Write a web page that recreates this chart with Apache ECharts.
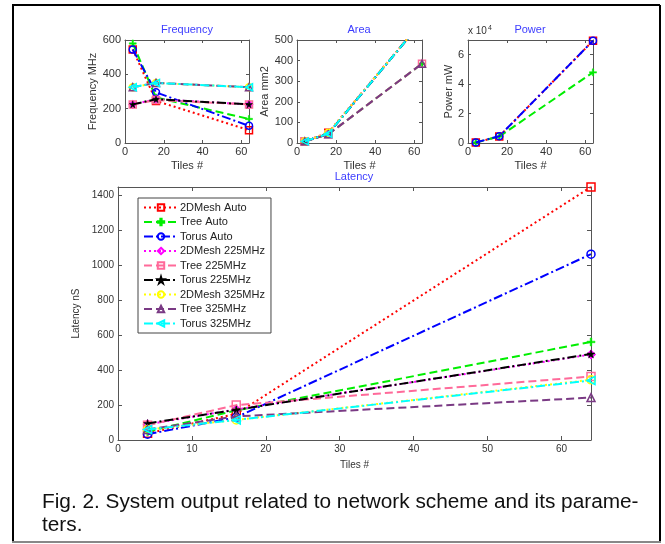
<!DOCTYPE html>
<html><head><meta charset="utf-8">
<script src="https://cdn.jsdelivr.net/npm/echarts@6/dist/echarts.min.js"></script>
<style>html,body{margin:0;padding:0;background:#fff}#c{width:665px;height:544px}</style>
</head><body><div id="c"></div>
<script>
// ---------- data ----------
const tiles = [4, 16, 64];
const seriesNames = ['2DMesh Auto', 'Tree Auto', 'Torus Auto', '2DMesh 225MHz', 'Tree 225MHz', 'Torus 225MHz', '2DMesh 325MHz', 'Tree 325MHz', 'Torus 325MHz'];

// Frequency (MHz)
const freqMeshAuto  = [545, 245, 75];
const freqTreeAuto  = [580, 265, 140];
const freqTorusAuto = [545, 295, 100];
const freqMesh225   = [225, 255, 225];
const freqTree225   = [225, 250, 225];
const freqTorus225  = [225, 255, 225];
const freqMesh325   = [325, 350, 325];
const freqTree325   = [325, 350, 325];
const freqTorus325  = [325, 350, 325];

// Area (mm2)
const areaMesh  = [8, 50, 590];
const areaTree  = [8, 42, 385];
const areaTorus = [8, 45, 590];

// Power (mW)
const powerMeshAuto  = [400, 4500, 69500];
const powerTreeAuto  = [400, 4400, 48000];
const powerTorusAuto = [400, 4600, 69500];

// Latency (nS)
const latMeshAuto  = [38, 150, 1450];
const latTreeAuto  = [48, 170, 562];
const latTorusAuto = [33, 130, 1065];
const latMesh225   = [90, 175, 490];
const latTree225   = [85, 200, 364];
const latTorus225  = [95, 173, 493];
const latMesh325   = [60, 115, 345];
const latTree325   = [60, 135, 243];
const latTorus325  = [60, 115, 341];

const freqData = [freqMeshAuto, freqTreeAuto, freqTorusAuto, freqMesh225, freqTree225, freqTorus225, freqMesh325, freqTree325, freqTorus325];
const areaData = [areaMesh, areaTree, areaTorus, areaMesh, areaTree, areaTorus, areaMesh, areaTree, areaTorus];
const powerData = [powerMeshAuto, powerTreeAuto, powerTorusAuto, null, null, null, null, null, null];
const latData = [latMeshAuto, latTreeAuto, latTorusAuto, latMesh225, latTree225, latTorus225, latMesh325, latTree325, latTorus325];

// ---------- styles ----------
const FONT = '"Liberation Sans", Arial, Helvetica, sans-serif';
const PLUS = 'path://M4,0H6V4H10V6H6V10H4V6H0V4H4Z';
const STAR = 'path://M50,0L61,35L98,35L68,57L79,91L50,70L21,91L32,57L2,35L39,35Z';
const LTRI = 'path://M0,5L10,0L10,10Z';
const DOT = [2, 3], DASH = [8, 4], DASHDOT = [9, 3, 2, 3];
const styles = [
  {c: '#ff0000', t: DOT, s: 'rect', f: false},
  {c: '#00ee00', t: DASH, s: PLUS, f: true},
  {c: '#0000ff', t: DASHDOT, s: 'circle', f: false},
  {c: '#ff00ff', t: DOT, s: 'diamond', f: false},
  {c: '#ff6a9a', t: DASH, s: 'rect', f: false},
  {c: '#000000', t: DASHDOT, s: STAR, f: true},
  {c: '#ffff00', t: DOT, s: 'circle', f: false},
  {c: '#7a3a84', t: DASH, s: 'triangle', f: false},
  {c: '#00ffff', t: DASHDOT, s: LTRI, f: false}
];

const grids = [
  {left: 125, top: 40, width: 124, height: 103},
  {left: 297, top: 40, width: 125, height: 103},
  {left: 468, top: 40, width: 125, height: 103},
  {left: 118, top: 187, width: 473, height: 253}
];

const axisCol = '#555';
const labCol = '#333';
const xAxes = [], yAxes = [];
function addAxes(g, xInt, yMax, yInt, yName, yGap, small, yFmt) {
  const fs = small ? 11 : 10;
  const tickLen = small ? 3 : 4;
  const line = {show: true, onZero: false, lineStyle: {color: axisCol, width: 1}};
  const tick = {show: true, inside: true, length: tickLen, lineStyle: {color: axisCol}};
  xAxes.push({type: 'value', gridIndex: g, position: 'bottom', min: 0, max: 64, interval: xInt,
    name: 'Tiles #', nameLocation: 'middle', nameGap: small ? 17 : 20,
    nameTextStyle: {fontFamily: FONT, fontSize: fs, color: labCol},
    axisLine: line, axisTick: tick,
    axisLabel: {showMaxLabel: false, margin: small ? 3 : 4, fontFamily: FONT, fontSize: fs, color: labCol},
    splitLine: {show: false}});
  xAxes.push({type: 'value', gridIndex: g, position: 'top', min: 0, max: 64, interval: xInt,
    axisLine: line, axisTick: tick,
    axisLabel: {show: false}, splitLine: {show: false}});
  yAxes.push({type: 'value', gridIndex: g, position: 'left', min: 0, max: yMax, interval: yInt,
    name: yName, nameLocation: 'middle', nameGap: yGap, nameRotate: 90,
    nameTextStyle: {fontFamily: FONT, fontSize: fs, color: labCol},
    axisLine: line, axisTick: tick,
    axisLabel: {showMaxLabel: yMax % yInt === 0, margin: 4, fontFamily: FONT, fontSize: fs, color: labCol,
      formatter: yFmt || (v => String(v))},
    splitLine: {show: false}});
  yAxes.push({type: 'value', gridIndex: g, position: 'right', min: 0, max: yMax, interval: yInt,
    axisLine: line, axisTick: tick,
    axisLabel: {show: false}, splitLine: {show: false}});
}
addAxes(0, 20, 600, 200, 'Frequency MHz', 26, true);
addAxes(1, 20, 500, 100, 'Area mm2', 25, true);
addAxes(2, 20, 70000, 20000, 'Power mW', 13, true, v => String(v / 10000));
addAxes(3, 10, 1450, 200, 'Latency nS', 33, false);

const series = [];
function addSeries(g, dataList, symSize) {
  dataList.forEach((arr, i) => {
    if (!arr) return;
    const st = styles[i];
    series.push({
      type: 'line', name: seriesNames[i], xAxisIndex: 2 * g, yAxisIndex: 2 * g,
      data: tiles.map((t, k) => [t, arr[k]]),
      symbol: st.s, symbolSize: symSize, showAllSymbol: true, clip: true,
      lineStyle: {color: st.c, width: 2, type: st.t},
      itemStyle: {color: st.f ? st.c : 'rgba(0,0,0,0)', borderColor: st.c, borderWidth: st.f ? 0.5 : 1.5},
      emphasis: {disabled: true}, z: 2 + i
    });
  });
}
addSeries(3, latData, 8);
addSeries(0, freqData, 7);
addSeries(1, areaData, 7);
addSeries(2, powerData, 7);

const titleStyle = {fontFamily: FONT, fontSize: 11, fill: '#3c3cff', align: 'center', verticalAlign: 'middle'};
const graphic = [
  {type: 'line', shape: {x1: 12, y1: 5, x2: 660, y2: 5}, style: {stroke: '#000', lineWidth: 2}},
  {type: 'line', shape: {x1: 13, y1: 5, x2: 13, y2: 542}, style: {stroke: '#000', lineWidth: 2}},
  {type: 'line', shape: {x1: 660, y1: 5, x2: 660, y2: 542}, style: {stroke: '#000', lineWidth: 2}},
  {type: 'line', shape: {x1: 12, y1: 542, x2: 661, y2: 542}, style: {stroke: '#888', lineWidth: 2}},
  {type: 'text', x: 187, y: 30, style: Object.assign({text: 'Frequency'}, titleStyle)},
  {type: 'text', x: 359, y: 30, style: Object.assign({text: 'Area'}, titleStyle)},
  {type: 'text', x: 530, y: 30, style: Object.assign({text: 'Power'}, titleStyle)},
  {type: 'text', x: 354, y: 177, style: Object.assign({text: 'Latency'}, titleStyle)},
  {type: 'text', x: 468, y: 38, style: {text: '{a|x 10}{b|4}', verticalAlign: 'bottom', fontFamily: FONT,
    rich: {a: {fontFamily: FONT, fontSize: 10, fill: labCol}, b: {fontFamily: FONT, fontSize: 7, fill: labCol, verticalAlign: 'top', padding: [0, 0, 6, 1]}}}},
  {type: 'text', x: 42, y: 502, scaleX: 1.04, style: {text: 'Fig. 2. System output related to network scheme and its parame-', fontFamily: FONT, fontSize: 20, fill: '#111', verticalAlign: 'middle'}},
  {type: 'text', x: 42, y: 525, scaleX: 1.04, style: {text: 'ters.', fontFamily: FONT, fontSize: 20, fill: '#111', verticalAlign: 'middle'}}
];

const option = {
  animation: false,
  backgroundColor: '#fff',
  grid: grids,
  xAxis: xAxes,
  yAxis: yAxes,
  legend: {
    data: seriesNames, orient: 'vertical', left: 138, top: 198,
    itemWidth: 34, itemHeight: 8, itemGap: 3.5,
    padding: [4, 6, 4, 5], borderColor: '#444', borderWidth: 1, backgroundColor: '#fff',
    selectedMode: false,
    textStyle: {fontFamily: FONT, fontSize: 11, color: '#222', padding: [0, 0, 0, -3]}
  },
  series: series,
  graphic: graphic
};
const chart = echarts.init(document.getElementById('c'), null, {renderer: 'canvas'});
chart.setOption(option);
</script>
</body></html>
